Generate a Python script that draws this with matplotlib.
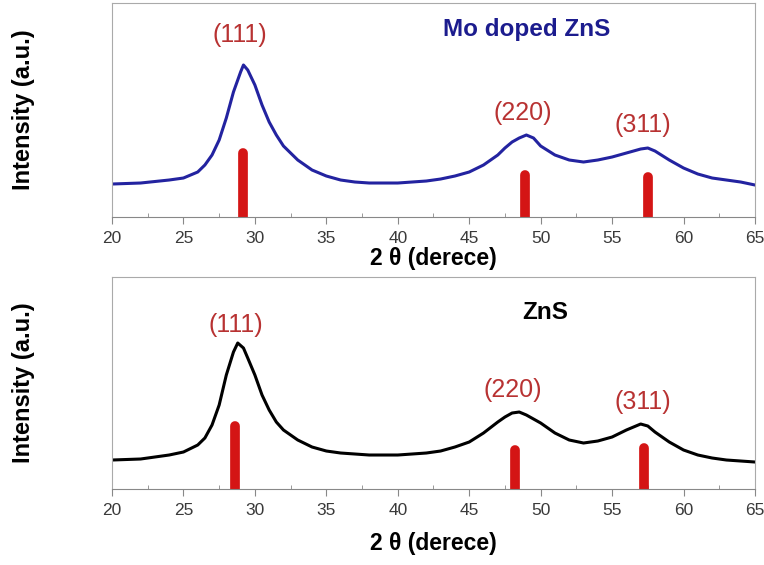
import matplotlib
matplotlib.use('Agg')
import matplotlib.pyplot as plt
from matplotlib.ticker import MultipleLocator

plt.rcParams['font.family'] = ['Liberation Sans', 'DejaVu Sans']

# 2theta grid (degrees)
two_theta = [20, 22, 24, 25, 26, 26.5, 27, 27.5, 28, 28.5, 29, 29.2, 29.5, 30, 30.5, 31, 31.5, 32,
             33, 34, 35, 36, 37, 38, 40, 42, 43, 44, 45, 46, 47, 47.5, 48, 48.5, 49, 49.5, 50,
             51, 52, 53, 54, 55, 56, 57, 57.5, 58, 59, 60, 61, 62, 63, 64, 65]
# Mo doped ZnS intensity (a.u.)
mo_zns = [33, 34, 37, 39, 45, 52, 62, 77, 99, 125, 145, 152, 147, 132, 112, 95, 82, 71,
          57, 47, 41, 37, 35, 34, 34, 36, 38, 41, 45, 52, 62, 69, 75, 79, 82, 79, 71,
          62, 57, 55, 57, 60, 64, 68, 69, 66, 57, 49, 43, 39, 37, 35, 32]

two_theta_b = [20, 22, 24, 25, 26, 26.5, 27, 27.5, 28, 28.5, 28.8, 29.2, 29.5, 30, 30.5, 31, 31.5, 32,
               33, 34, 35, 36, 38, 40, 42, 43, 44, 45, 46, 47, 47.5, 48, 48.5, 49, 50,
               51, 52, 53, 54, 55, 56, 57, 57.5, 58, 59, 60, 61, 62, 63, 64, 65]
# pure ZnS intensity (a.u.)
zns = [29, 30, 34, 37, 44, 51, 64, 84, 114, 137, 146, 141, 131, 114, 94, 79, 67, 59,
       49, 42, 38, 36, 34, 34, 36, 38, 42, 47, 56, 67, 72, 76, 77, 74, 66,
       56, 49, 46, 48, 52, 59, 65, 63, 57, 47, 39, 34, 31, 29, 28, 27]

hkl = ['(111)', '(220)', '(311)']
# reference peak positions and bar heights
ref_top = [29.2, 48.9, 57.5]
ref_top_h = [64, 42, 40]
lab_top_x = [28.96, 48.76, 57.16]
lab_top_y = [182, 104, 92]

ref_bot = [28.6, 48.2, 57.2]
ref_bot_h = [63, 39, 41]
lab_bot_x = [28.68, 48.06, 57.16]
lab_bot_y = [164, 99, 87]

fig = plt.figure(figsize=(7.64, 5.65), dpi=100)
ax1 = fig.add_axes([0.1466, 0.6159, 0.8416, 0.3788])
ax2 = fig.add_axes([0.1466, 0.1345, 0.8416, 0.3752])

red = '#d41515'
lab_red = '#b83232'

def style(ax):
    ax.set_xlim(20, 65)
    ax.set_yticks([])
    ax.xaxis.set_major_locator(MultipleLocator(5))
    ax.xaxis.set_minor_locator(MultipleLocator(2.5))
    ax.tick_params(axis='x', which='major', direction='out', length=5, color='#888888',
                   labelsize=12.5, labelcolor='#3a3a3a', pad=5)
    ax.tick_params(axis='x', which='minor', direction='in', length=3, color='#888888')
    for s in ax.spines.values():
        s.set_color('#aaaaaa')
        s.set_linewidth(0.8)
    ax.spines['bottom'].set_color('#888888')
    ax.set_ylabel('Intensity (a.u.)', fontsize=17, fontweight='bold')
    ax.yaxis.set_label_coords(-0.12, 0.5)

# top panel
ax1.plot(two_theta, mo_zns, color='#2323a0', lw=2.2)
for x, h in zip(ref_top, ref_top_h):
    ax1.plot([x, x], [0, h], color=red, lw=7, solid_capstyle='round')
for t, x, y in zip(hkl, lab_top_x, lab_top_y):
    ax1.text(x, y, t, color=lab_red, fontsize=18, ha='center', va='center')
ax1.text(49.04, 187, 'Mo doped ZnS', color='#1c1c8e', fontsize=17.5, fontweight='bold',
         ha='center', va='center')
ax1.set_ylim(0, 214)
style(ax1)
ax1.set_xlabel('2 θ (derece)', fontsize=16.5, fontweight='bold', labelpad=1)

# bottom panel
ax2.plot(two_theta_b, zns, color='black', lw=2.2)
for x, h in zip(ref_bot, ref_bot_h):
    ax2.plot([x, x], [0, h], color=red, lw=7, solid_capstyle='round')
for t, x, y in zip(hkl, lab_bot_x, lab_bot_y):
    ax2.text(x, y, t, color=lab_red, fontsize=18, ha='center', va='center')
ax2.text(50.3, 177, 'ZnS', color='black', fontsize=17.5, fontweight='bold',
         ha='center', va='center')
ax2.set_ylim(0, 212)
style(ax2)
ax2.set_xlabel('2 θ (derece)', fontsize=16.5, fontweight='bold', labelpad=10)

fig.savefig('out.png', dpi=100)
